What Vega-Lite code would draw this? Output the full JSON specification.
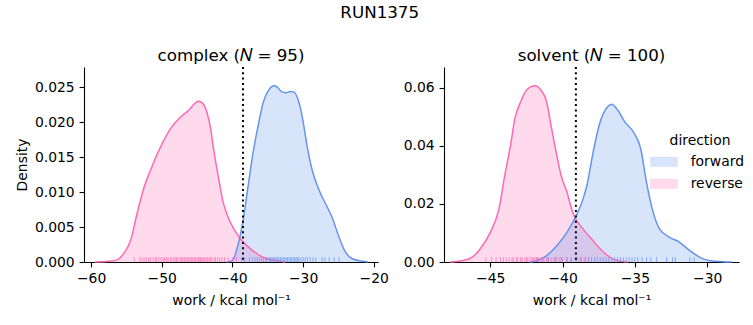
{
  "$schema": "https://vega.github.io/schema/vega-lite/v6.json",
  "padding": {"left": 15, "top": 4, "right": 12, "bottom": 6},
  "background": "white",
  "title": {"text": "RUN1375", "anchor": "middle", "fontSize": 16.7, "fontWeight": "normal", "color": "black", "font": "DejaVu Sans", "offset": 27},
  "config": {
    "font": "DejaVu Sans",
    "view": {"stroke": null},
    "axis": {"grid": false, "domainColor": "black", "domainWidth": 1.1, "tickColor": "black", "tickWidth": 1.1, "tickSize": 4.9, "labelFontSize": 13.9, "labelColor": "black", "labelPadding": 4.9, "titleFontSize": 13.9, "titleFontWeight": "normal", "titleColor": "black", "labelFlush": false, "labelOverlap": false, "labelFont": "DejaVu Sans", "titleFont": "DejaVu Sans"},
    "title": {"fontSize": 16.7, "fontWeight": "normal", "color": "black", "font": "DejaVu Sans"}
  },
  "datasets": {
    "curves": [
      {"panel": "complex", "direction": "reverse", "work": -59.5, "density": 0.0},
      {"panel": "complex", "direction": "reverse", "work": -57.5, "density": 0.0001},
      {"panel": "complex", "direction": "reverse", "work": -56.3, "density": 0.0003},
      {"panel": "complex", "direction": "reverse", "work": -55.4, "density": 0.0012},
      {"panel": "complex", "direction": "reverse", "work": -54.4, "density": 0.0031},
      {"panel": "complex", "direction": "reverse", "work": -53.5, "density": 0.0069},
      {"panel": "complex", "direction": "reverse", "work": -52.5, "density": 0.0107},
      {"panel": "complex", "direction": "reverse", "work": -51.6, "density": 0.0131},
      {"panel": "complex", "direction": "reverse", "work": -50.2, "density": 0.0164},
      {"panel": "complex", "direction": "reverse", "work": -48.8, "density": 0.019},
      {"panel": "complex", "direction": "reverse", "work": -47.4, "density": 0.0207},
      {"panel": "complex", "direction": "reverse", "work": -46.0, "density": 0.0219},
      {"panel": "complex", "direction": "reverse", "work": -45.4, "density": 0.0226},
      {"panel": "complex", "direction": "reverse", "work": -44.8, "density": 0.023},
      {"panel": "complex", "direction": "reverse", "work": -44.2, "density": 0.0227},
      {"panel": "complex", "direction": "reverse", "work": -43.6, "density": 0.0214},
      {"panel": "complex", "direction": "reverse", "work": -43.1, "density": 0.0192},
      {"panel": "complex", "direction": "reverse", "work": -42.7, "density": 0.0164},
      {"panel": "complex", "direction": "reverse", "work": -42.0, "density": 0.0122},
      {"panel": "complex", "direction": "reverse", "work": -41.3, "density": 0.0085},
      {"panel": "complex", "direction": "reverse", "work": -40.4, "density": 0.0059},
      {"panel": "complex", "direction": "reverse", "work": -39.0, "density": 0.0035},
      {"panel": "complex", "direction": "reverse", "work": -37.1, "density": 0.0016},
      {"panel": "complex", "direction": "reverse", "work": -35.7, "density": 0.0007},
      {"panel": "complex", "direction": "reverse", "work": -33.8, "density": 0.0002},
      {"panel": "complex", "direction": "reverse", "work": -32.5, "density": 0.0},
      {"panel": "complex", "direction": "forward", "work": -40.8, "density": 0.0},
      {"panel": "complex", "direction": "forward", "work": -40.0, "density": 0.0002},
      {"panel": "complex", "direction": "forward", "work": -39.3, "density": 0.0021},
      {"panel": "complex", "direction": "forward", "work": -38.5, "density": 0.0059},
      {"panel": "complex", "direction": "forward", "work": -37.8, "density": 0.0107},
      {"panel": "complex", "direction": "forward", "work": -37.1, "density": 0.0155},
      {"panel": "complex", "direction": "forward", "work": -36.4, "density": 0.0193},
      {"panel": "complex", "direction": "forward", "work": -35.7, "density": 0.0226},
      {"panel": "complex", "direction": "forward", "work": -34.8, "density": 0.0247},
      {"panel": "complex", "direction": "forward", "work": -34.1, "density": 0.0252},
      {"panel": "complex", "direction": "forward", "work": -33.5, "density": 0.0249},
      {"panel": "complex", "direction": "forward", "work": -33.1, "density": 0.0244},
      {"panel": "complex", "direction": "forward", "work": -32.4, "density": 0.0242},
      {"panel": "complex", "direction": "forward", "work": -31.8, "density": 0.0244},
      {"panel": "complex", "direction": "forward", "work": -31.3, "density": 0.0243},
      {"panel": "complex", "direction": "forward", "work": -30.8, "density": 0.0235},
      {"panel": "complex", "direction": "forward", "work": -30.1, "density": 0.0207},
      {"panel": "complex", "direction": "forward", "work": -29.4, "density": 0.0164},
      {"panel": "complex", "direction": "forward", "work": -28.7, "density": 0.0131},
      {"panel": "complex", "direction": "forward", "work": -27.7, "density": 0.0102},
      {"panel": "complex", "direction": "forward", "work": -26.8, "density": 0.0083},
      {"panel": "complex", "direction": "forward", "work": -25.9, "density": 0.0064},
      {"panel": "complex", "direction": "forward", "work": -24.9, "density": 0.0035},
      {"panel": "complex", "direction": "forward", "work": -24.0, "density": 0.0014},
      {"panel": "complex", "direction": "forward", "work": -23.1, "density": 0.0005},
      {"panel": "complex", "direction": "forward", "work": -21.6, "density": 0.0001},
      {"panel": "complex", "direction": "forward", "work": -20.8, "density": 0.0},
      {"panel": "solvent", "direction": "reverse", "work": -47.8, "density": 0.0},
      {"panel": "solvent", "direction": "reverse", "work": -47.3, "density": 0.0002},
      {"panel": "solvent", "direction": "reverse", "work": -46.4, "density": 0.0012},
      {"panel": "solvent", "direction": "reverse", "work": -45.7, "density": 0.0045},
      {"panel": "solvent", "direction": "reverse", "work": -45.0, "density": 0.0102},
      {"panel": "solvent", "direction": "reverse", "work": -44.4, "density": 0.0183},
      {"panel": "solvent", "direction": "reverse", "work": -44.0, "density": 0.0298},
      {"panel": "solvent", "direction": "reverse", "work": -43.6, "density": 0.0402},
      {"panel": "solvent", "direction": "reverse", "work": -43.3, "density": 0.0494},
      {"panel": "solvent", "direction": "reverse", "work": -42.9, "density": 0.0552},
      {"panel": "solvent", "direction": "reverse", "work": -42.5, "density": 0.0592},
      {"panel": "solvent", "direction": "reverse", "work": -41.9, "density": 0.0607},
      {"panel": "solvent", "direction": "reverse", "work": -41.5, "density": 0.0592},
      {"panel": "solvent", "direction": "reverse", "work": -41.1, "density": 0.0552},
      {"panel": "solvent", "direction": "reverse", "work": -40.8, "density": 0.0471},
      {"panel": "solvent", "direction": "reverse", "work": -40.4, "density": 0.0367},
      {"panel": "solvent", "direction": "reverse", "work": -40.1, "density": 0.0298},
      {"panel": "solvent", "direction": "reverse", "work": -39.7, "density": 0.0241},
      {"panel": "solvent", "direction": "reverse", "work": -39.3, "density": 0.0171},
      {"panel": "solvent", "direction": "reverse", "work": -38.6, "density": 0.0114},
      {"panel": "solvent", "direction": "reverse", "work": -37.9, "density": 0.0074},
      {"panel": "solvent", "direction": "reverse", "work": -37.6, "density": 0.0056},
      {"panel": "solvent", "direction": "reverse", "work": -36.5, "density": 0.001},
      {"panel": "solvent", "direction": "reverse", "work": -36.0, "density": 0.0003},
      {"panel": "solvent", "direction": "reverse", "work": -35.5, "density": 0.0},
      {"panel": "solvent", "direction": "forward", "work": -42.3, "density": 0.0},
      {"panel": "solvent", "direction": "forward", "work": -41.8, "density": 0.0004},
      {"panel": "solvent", "direction": "forward", "work": -41.1, "density": 0.0022},
      {"panel": "solvent", "direction": "forward", "work": -40.4, "density": 0.0056},
      {"panel": "solvent", "direction": "forward", "work": -39.7, "density": 0.0102},
      {"panel": "solvent", "direction": "forward", "work": -39.0, "density": 0.0166},
      {"panel": "solvent", "direction": "forward", "work": -38.6, "density": 0.0215},
      {"panel": "solvent", "direction": "forward", "work": -38.3, "density": 0.0268},
      {"panel": "solvent", "direction": "forward", "work": -37.9, "density": 0.0375},
      {"panel": "solvent", "direction": "forward", "work": -37.4, "density": 0.0483},
      {"panel": "solvent", "direction": "forward", "work": -36.9, "density": 0.0534},
      {"panel": "solvent", "direction": "forward", "work": -36.6, "density": 0.0544},
      {"panel": "solvent", "direction": "forward", "work": -36.1, "density": 0.0517},
      {"panel": "solvent", "direction": "forward", "work": -35.7, "density": 0.0483},
      {"panel": "solvent", "direction": "forward", "work": -35.1, "density": 0.0448},
      {"panel": "solvent", "direction": "forward", "work": -34.6, "density": 0.0391},
      {"panel": "solvent", "direction": "forward", "work": -34.2, "density": 0.0275},
      {"panel": "solvent", "direction": "forward", "work": -33.8, "density": 0.0183},
      {"panel": "solvent", "direction": "forward", "work": -33.3, "density": 0.0114},
      {"panel": "solvent", "direction": "forward", "work": -32.6, "density": 0.0085},
      {"panel": "solvent", "direction": "forward", "work": -31.9, "density": 0.0068},
      {"panel": "solvent", "direction": "forward", "work": -31.2, "density": 0.0039},
      {"panel": "solvent", "direction": "forward", "work": -30.5, "density": 0.0016},
      {"panel": "solvent", "direction": "forward", "work": -29.8, "density": 0.0004},
      {"panel": "solvent", "direction": "forward", "work": -28.9, "density": 0.0001},
      {"panel": "solvent", "direction": "forward", "work": -28.3, "density": 0.0}
    ],
    "rugs": [
      {"panel": "complex", "direction": "reverse", "work": -53.9}, {"panel": "complex", "direction": "reverse", "work": -53.1}, {"panel": "complex", "direction": "reverse", "work": -52.8}, {"panel": "complex", "direction": "reverse", "work": -52.5}, {"panel": "complex", "direction": "reverse", "work": -52.2}, {"panel": "complex", "direction": "reverse", "work": -51.9}, {"panel": "complex", "direction": "reverse", "work": -51.6}, {"panel": "complex", "direction": "reverse", "work": -51.2}, {"panel": "complex", "direction": "reverse", "work": -50.9}, {"panel": "complex", "direction": "reverse", "work": -50.7}, {"panel": "complex", "direction": "reverse", "work": -50.4}, {"panel": "complex", "direction": "reverse", "work": -50.1}, {"panel": "complex", "direction": "reverse", "work": -49.8}, {"panel": "complex", "direction": "reverse", "work": -49.6}, {"panel": "complex", "direction": "reverse", "work": -49.3}, {"panel": "complex", "direction": "reverse", "work": -49.1}, {"panel": "complex", "direction": "reverse", "work": -48.8}, {"panel": "complex", "direction": "reverse", "work": -48.6}, {"panel": "complex", "direction": "reverse", "work": -48.3}, {"panel": "complex", "direction": "reverse", "work": -48.1}, {"panel": "complex", "direction": "reverse", "work": -47.9}, {"panel": "complex", "direction": "reverse", "work": -47.7}, {"panel": "complex", "direction": "reverse", "work": -47.4}, {"panel": "complex", "direction": "reverse", "work": -47.2}, {"panel": "complex", "direction": "reverse", "work": -47.0}, {"panel": "complex", "direction": "reverse", "work": -46.8}, {"panel": "complex", "direction": "reverse", "work": -46.6}, {"panel": "complex", "direction": "reverse", "work": -46.4}, {"panel": "complex", "direction": "reverse", "work": -46.2}, {"panel": "complex", "direction": "reverse", "work": -46.0}, {"panel": "complex", "direction": "reverse", "work": -45.8}, {"panel": "complex", "direction": "reverse", "work": -45.6}, {"panel": "complex", "direction": "reverse", "work": -45.4}, {"panel": "complex", "direction": "reverse", "work": -45.2}, {"panel": "complex", "direction": "reverse", "work": -45.0}, {"panel": "complex", "direction": "reverse", "work": -44.8}, {"panel": "complex", "direction": "reverse", "work": -44.6}, {"panel": "complex", "direction": "reverse", "work": -44.5}, {"panel": "complex", "direction": "reverse", "work": -44.3}, {"panel": "complex", "direction": "reverse", "work": -44.1}, {"panel": "complex", "direction": "reverse", "work": -43.9}, {"panel": "complex", "direction": "reverse", "work": -43.7}, {"panel": "complex", "direction": "reverse", "work": -43.5}, {"panel": "complex", "direction": "reverse", "work": -43.3}, {"panel": "complex", "direction": "reverse", "work": -43.1}, {"panel": "complex", "direction": "reverse", "work": -42.9}, {"panel": "complex", "direction": "reverse", "work": -42.6}, {"panel": "complex", "direction": "reverse", "work": -42.4}, {"panel": "complex", "direction": "reverse", "work": -42.1}, {"panel": "complex", "direction": "reverse", "work": -41.8}, {"panel": "complex", "direction": "reverse", "work": -41.5}, {"panel": "complex", "direction": "reverse", "work": -41.1}, {"panel": "complex", "direction": "reverse", "work": -40.6}, {"panel": "complex", "direction": "reverse", "work": -40.0}, {"panel": "complex", "direction": "reverse", "work": -39.4}, {"panel": "complex", "direction": "reverse", "work": -38.7},
      {"panel": "complex", "direction": "forward", "work": -38.3}, {"panel": "complex", "direction": "forward", "work": -37.6}, {"panel": "complex", "direction": "forward", "work": -37.2}, {"panel": "complex", "direction": "forward", "work": -36.8}, {"panel": "complex", "direction": "forward", "work": -36.5}, {"panel": "complex", "direction": "forward", "work": -36.2}, {"panel": "complex", "direction": "forward", "work": -35.9}, {"panel": "complex", "direction": "forward", "work": -35.6}, {"panel": "complex", "direction": "forward", "work": -35.3}, {"panel": "complex", "direction": "forward", "work": -35.1}, {"panel": "complex", "direction": "forward", "work": -34.8}, {"panel": "complex", "direction": "forward", "work": -34.6}, {"panel": "complex", "direction": "forward", "work": -34.4}, {"panel": "complex", "direction": "forward", "work": -34.2}, {"panel": "complex", "direction": "forward", "work": -34.0}, {"panel": "complex", "direction": "forward", "work": -33.8}, {"panel": "complex", "direction": "forward", "work": -33.6}, {"panel": "complex", "direction": "forward", "work": -33.4}, {"panel": "complex", "direction": "forward", "work": -33.2}, {"panel": "complex", "direction": "forward", "work": -33.0}, {"panel": "complex", "direction": "forward", "work": -32.8}, {"panel": "complex", "direction": "forward", "work": -32.6}, {"panel": "complex", "direction": "forward", "work": -32.4}, {"panel": "complex", "direction": "forward", "work": -32.2}, {"panel": "complex", "direction": "forward", "work": -32.0}, {"panel": "complex", "direction": "forward", "work": -31.8}, {"panel": "complex", "direction": "forward", "work": -31.6}, {"panel": "complex", "direction": "forward", "work": -31.4}, {"panel": "complex", "direction": "forward", "work": -31.2}, {"panel": "complex", "direction": "forward", "work": -31.0}, {"panel": "complex", "direction": "forward", "work": -30.8}, {"panel": "complex", "direction": "forward", "work": -30.6}, {"panel": "complex", "direction": "forward", "work": -30.3}, {"panel": "complex", "direction": "forward", "work": -30.0}, {"panel": "complex", "direction": "forward", "work": -29.7}, {"panel": "complex", "direction": "forward", "work": -29.4}, {"panel": "complex", "direction": "forward", "work": -29.0}, {"panel": "complex", "direction": "forward", "work": -28.6}, {"panel": "complex", "direction": "forward", "work": -28.2}, {"panel": "complex", "direction": "forward", "work": -27.3}, {"panel": "complex", "direction": "forward", "work": -26.9}, {"panel": "complex", "direction": "forward", "work": -26.3}, {"panel": "complex", "direction": "forward", "work": -25.6}, {"panel": "complex", "direction": "forward", "work": -24.9},
      {"panel": "solvent", "direction": "reverse", "work": -45.3}, {"panel": "solvent", "direction": "reverse", "work": -44.9}, {"panel": "solvent", "direction": "reverse", "work": -44.6}, {"panel": "solvent", "direction": "reverse", "work": -44.3}, {"panel": "solvent", "direction": "reverse", "work": -44.1}, {"panel": "solvent", "direction": "reverse", "work": -43.9}, {"panel": "solvent", "direction": "reverse", "work": -43.7}, {"panel": "solvent", "direction": "reverse", "work": -43.5}, {"panel": "solvent", "direction": "reverse", "work": -43.4}, {"panel": "solvent", "direction": "reverse", "work": -43.2}, {"panel": "solvent", "direction": "reverse", "work": -43.1}, {"panel": "solvent", "direction": "reverse", "work": -42.9}, {"panel": "solvent", "direction": "reverse", "work": -42.8}, {"panel": "solvent", "direction": "reverse", "work": -42.6}, {"panel": "solvent", "direction": "reverse", "work": -42.5}, {"panel": "solvent", "direction": "reverse", "work": -42.4}, {"panel": "solvent", "direction": "reverse", "work": -42.2}, {"panel": "solvent", "direction": "reverse", "work": -42.1}, {"panel": "solvent", "direction": "reverse", "work": -42.0}, {"panel": "solvent", "direction": "reverse", "work": -41.9}, {"panel": "solvent", "direction": "reverse", "work": -41.8}, {"panel": "solvent", "direction": "reverse", "work": -41.7}, {"panel": "solvent", "direction": "reverse", "work": -41.5}, {"panel": "solvent", "direction": "reverse", "work": -41.4}, {"panel": "solvent", "direction": "reverse", "work": -41.3}, {"panel": "solvent", "direction": "reverse", "work": -41.1}, {"panel": "solvent", "direction": "reverse", "work": -41.0}, {"panel": "solvent", "direction": "reverse", "work": -40.8}, {"panel": "solvent", "direction": "reverse", "work": -40.6}, {"panel": "solvent", "direction": "reverse", "work": -40.4}, {"panel": "solvent", "direction": "reverse", "work": -40.2}, {"panel": "solvent", "direction": "reverse", "work": -40.0}, {"panel": "solvent", "direction": "reverse", "work": -39.7}, {"panel": "solvent", "direction": "reverse", "work": -39.4}, {"panel": "solvent", "direction": "reverse", "work": -39.1}, {"panel": "solvent", "direction": "reverse", "work": -38.8}, {"panel": "solvent", "direction": "reverse", "work": -38.5}, {"panel": "solvent", "direction": "reverse", "work": -38.2},
      {"panel": "solvent", "direction": "forward", "work": -41.7}, {"panel": "solvent", "direction": "forward", "work": -41.0}, {"panel": "solvent", "direction": "forward", "work": -40.5}, {"panel": "solvent", "direction": "forward", "work": -40.1}, {"panel": "solvent", "direction": "forward", "work": -39.7}, {"panel": "solvent", "direction": "forward", "work": -39.4}, {"panel": "solvent", "direction": "forward", "work": -39.0}, {"panel": "solvent", "direction": "forward", "work": -38.7}, {"panel": "solvent", "direction": "forward", "work": -38.4}, {"panel": "solvent", "direction": "forward", "work": -38.2}, {"panel": "solvent", "direction": "forward", "work": -38.0}, {"panel": "solvent", "direction": "forward", "work": -37.8}, {"panel": "solvent", "direction": "forward", "work": -37.6}, {"panel": "solvent", "direction": "forward", "work": -37.4}, {"panel": "solvent", "direction": "forward", "work": -37.2}, {"panel": "solvent", "direction": "forward", "work": -37.0}, {"panel": "solvent", "direction": "forward", "work": -36.8}, {"panel": "solvent", "direction": "forward", "work": -36.6}, {"panel": "solvent", "direction": "forward", "work": -36.4}, {"panel": "solvent", "direction": "forward", "work": -36.2}, {"panel": "solvent", "direction": "forward", "work": -36.0}, {"panel": "solvent", "direction": "forward", "work": -35.8}, {"panel": "solvent", "direction": "forward", "work": -35.6}, {"panel": "solvent", "direction": "forward", "work": -35.4}, {"panel": "solvent", "direction": "forward", "work": -35.2}, {"panel": "solvent", "direction": "forward", "work": -35.0}, {"panel": "solvent", "direction": "forward", "work": -34.8}, {"panel": "solvent", "direction": "forward", "work": -34.5}, {"panel": "solvent", "direction": "forward", "work": -34.2}, {"panel": "solvent", "direction": "forward", "work": -33.9}, {"panel": "solvent", "direction": "forward", "work": -33.5}, {"panel": "solvent", "direction": "forward", "work": -32.8}, {"panel": "solvent", "direction": "forward", "work": -32.4}, {"panel": "solvent", "direction": "forward", "work": -32.2}, {"panel": "solvent", "direction": "forward", "work": -31.2}, {"panel": "solvent", "direction": "forward", "work": -30.9}
    ],
    "lines": [
      {"panel": "complex", "work": -38.5},
      {"panel": "solvent", "work": -39.08}
    ]
  },
  "spacing": 66,
  "bounds": "flush",
  "resolve": {"legend": {"fill": "independent"}},
  "hconcat": [
    {
      "width": 294,
      "height": 195,
      "title": {"text": "complex (𝑁 = 95)", "offset": 1},
      "layer": [
        {
          "data": {"name": "curves"},
          "transform": [{"filter": "datum.panel === 'complex'"}],
          "mark": {"type": "area", "opacity": 0.25, "interpolate": "monotone"},
          "encoding": {
            "x": {"field": "work", "type": "quantitative", "scale": {"domain": [-61, -19.4], "nice": false, "zero": false}, "axis": {"title": "work / kcal mol⁻¹", "values": [-60, -50, -40, -30, -20], "format": "d", "titlePadding": 8}},
            "y": {"field": "density", "type": "quantitative", "stack": null, "scale": {"domain": [0, 0.0279], "nice": false}, "axis": {"title": "Density", "values": [0, 0.005, 0.01, 0.015, 0.02, 0.025], "format": ".3f", "titlePadding": 5}},
            "fill": {"field": "direction", "type": "nominal", "scale": {"domain": ["forward", "reverse"], "range": ["#6495ED", "#FF69B4"]}, "legend": null}
          }
        },
        {
          "data": {"name": "curves"},
          "transform": [{"filter": "datum.panel === 'complex'"}],
          "mark": {"type": "line", "strokeWidth": 1.5, "interpolate": "monotone"},
          "encoding": {
            "x": {"field": "work", "type": "quantitative", "axis": {"title": "work / kcal mol⁻¹", "values": [-60, -50, -40, -30, -20], "format": "d", "titlePadding": 8}},
            "y": {"field": "density", "type": "quantitative", "axis": {"title": "Density", "values": [0, 0.005, 0.01, 0.015, 0.02, 0.025], "format": ".3f", "titlePadding": 5}},
            "detail": {"field": "direction"},
            "stroke": {"field": "direction", "type": "nominal", "scale": {"domain": ["forward", "reverse"], "range": ["#6495ED", "#FF69B4"]}, "legend": null}
          }
        },
        {
          "data": {"name": "rugs"},
          "transform": [{"filter": "datum.panel === 'complex'"}],
          "mark": {"type": "rule", "strokeWidth": 1, "opacity": 0.7},
          "encoding": {
            "x": {"field": "work", "type": "quantitative", "axis": {"title": "work / kcal mol⁻¹", "values": [-60, -50, -40, -30, -20], "format": "d", "titlePadding": 8}},
            "y": {"datum": 0, "type": "quantitative", "axis": {"title": "Density", "values": [0, 0.005, 0.01, 0.015, 0.02, 0.025], "format": ".3f", "titlePadding": 5}},
            "y2": {"datum": 0.0007},
            "stroke": {"field": "direction", "type": "nominal", "scale": {"domain": ["forward", "reverse"], "range": ["#6495ED", "#FF69B4"]}, "legend": null}
          }
        },
        {
          "data": {"name": "lines"},
          "transform": [{"filter": "datum.panel === 'complex'"}],
          "mark": {"type": "rule", "color": "black", "strokeWidth": 2, "strokeDash": [2, 3.3]},
          "encoding": {"x": {"field": "work", "type": "quantitative", "axis": {"title": "work / kcal mol⁻¹", "values": [-60, -50, -40, -30, -20], "format": "d", "titlePadding": 8}}}
        }
      ]
    },
    {
      "width": 295,
      "height": 195,
      "title": {"text": "solvent (𝑁 = 100)", "offset": 1},
      "layer": [
        {
          "data": {"name": "curves"},
          "transform": [{"filter": "datum.panel === 'solvent'"}],
          "mark": {"type": "area", "opacity": 0.25, "interpolate": "monotone"},
          "encoding": {
            "x": {"field": "work", "type": "quantitative", "scale": {"domain": [-48.2, -27.8], "nice": false, "zero": false}, "axis": {"title": "work / kcal mol⁻¹", "values": [-45, -40, -35, -30], "format": "d", "titlePadding": 8}},
            "y": {"field": "density", "type": "quantitative", "stack": null, "scale": {"domain": [0, 0.0672], "nice": false}, "axis": {"title": null, "values": [0, 0.02, 0.04, 0.06], "format": ".2f"}},
            "fill": {"field": "direction", "type": "nominal", "scale": {"domain": ["forward", "reverse"], "range": ["#6495ED", "#FF69B4"]},
              "legend": {"orient": "none", "legendX": 213, "legendY": 67, "title": "direction", "titleFontSize": 13.9, "titleFontWeight": "normal", "titleColor": "black", "titleAnchor": "middle", "titlePadding": 7, "labelFontSize": 13.9, "labelColor": "black", "labelOffset": 19.8, "rowPadding": 7.1, "symbolType": "M-2.8,-1H2.8V1H-2.8Z", "symbolSize": 98, "symbolStrokeWidth": 1.5, "padding": 0, "offset": 0,
                "encode": {"symbols": {"update": {"fillOpacity": {"value": 0.25}, "stroke": {"value": {"expr": "datum.value === 'forward' ? '#6495ED' : '#FF69B4'"}}, "strokeWidth": {"value": 1.5}, "strokeOpacity": {"value": 1}, "opacity": {"value": 1}}}}}}
          }
        },
        {
          "data": {"name": "curves"},
          "transform": [{"filter": "datum.panel === 'solvent'"}],
          "mark": {"type": "line", "strokeWidth": 1.5, "interpolate": "monotone"},
          "encoding": {
            "x": {"field": "work", "type": "quantitative", "axis": {"title": "work / kcal mol⁻¹", "values": [-45, -40, -35, -30], "format": "d", "titlePadding": 8}},
            "y": {"field": "density", "type": "quantitative", "axis": {"title": null, "values": [0, 0.02, 0.04, 0.06], "format": ".2f"}},
            "detail": {"field": "direction"},
            "stroke": {"field": "direction", "type": "nominal", "scale": {"domain": ["forward", "reverse"], "range": ["#6495ED", "#FF69B4"]}, "legend": null}
          }
        },
        {
          "data": {"name": "rugs"},
          "transform": [{"filter": "datum.panel === 'solvent'"}],
          "mark": {"type": "rule", "strokeWidth": 1, "opacity": 0.7},
          "encoding": {
            "x": {"field": "work", "type": "quantitative", "axis": {"title": "work / kcal mol⁻¹", "values": [-45, -40, -35, -30], "format": "d", "titlePadding": 8}},
            "y": {"datum": 0, "type": "quantitative", "axis": {"title": null, "values": [0, 0.02, 0.04, 0.06], "format": ".2f"}},
            "y2": {"datum": 0.0017},
            "stroke": {"field": "direction", "type": "nominal", "scale": {"domain": ["forward", "reverse"], "range": ["#6495ED", "#FF69B4"]}, "legend": null}
          }
        },
        {
          "data": {"name": "lines"},
          "transform": [{"filter": "datum.panel === 'solvent'"}],
          "mark": {"type": "rule", "color": "black", "strokeWidth": 2, "strokeDash": [2, 3.3]},
          "encoding": {"x": {"field": "work", "type": "quantitative", "axis": {"title": "work / kcal mol⁻¹", "values": [-45, -40, -35, -30], "format": "d", "titlePadding": 8}}}
        }
      ]
    }
  ]
}
